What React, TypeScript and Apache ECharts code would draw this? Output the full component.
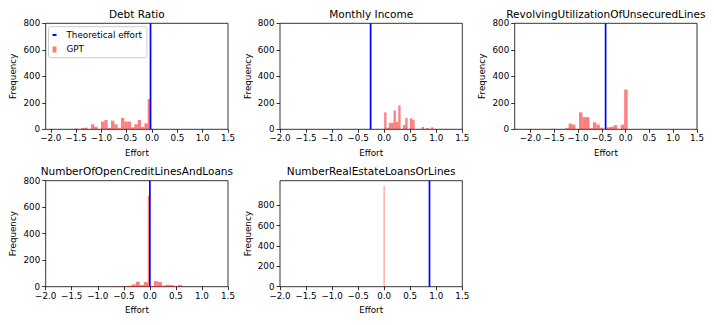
import React, { useEffect, useRef } from 'react';
import * as echarts from 'echarts';

const TITLES = [
  'Debt Ratio',
  'Monthly Income',
  'RevolvingUtilizationOfUnsecuredLines',
  'NumberOfOpenCreditLinesAndLoans',
  'NumberRealEstateLoansOrLines',
];
const X_TICKS = [-2.0, -1.5, -1.0, -0.5, 0.0, 0.5, 1.0, 1.5];
const Y_TICKS = [0, 200, 400, 600, 800];
const X_MIN = [-2.1, -2.0, -2.33, -2.0, -2.0];
const X_MAX = [1.5, 1.5, 1.5, 1.5, 1.5];
const Y_MAX = [800, 800, 800, 800, 1040];
const THEORETICAL = [-0.03, -0.26, -0.42, 0.0, 0.87];

const DEBT_EDGES = [-1.53, -1.47, -1.4, -1.34, -1.27, -1.206, -1.14, -1.074, -1.008, -0.942, -0.877, -0.811, -0.745, -0.679, -0.613, -0.547, -0.481, -0.415, -0.349, -0.283, -0.218, -0.152, -0.086, -0.026];
const DEBT_COUNTS = [6, 0, 10, 12, 0, 38, 20, 0, 58, 70, 10, 65, 38, 8, 86, 58, 58, 15, 38, 70, 18, 45, 228];

const INCOME_EDGES = [0, 0.045, 0.09, 0.135, 0.18, 0.225, 0.27, 0.315, 0.36, 0.405, 0.45, 0.495, 0.54, 0.585, 0.63, 0.675, 0.72, 0.765, 0.81, 0.855, 0.9, 0.945, 0.99, 1.035, 1.08, 1.125, 1.17, 1.215];
const INCOME_COUNTS = [128, 12, 48, 50, 142, 55, 180, 0, 32, 86, 0, 82, 72, 0, 0, 0, 18, 0, 10, 0, 15, 0, 0, 0, 0, 0, 3];

const REVOLVING_EDGES = [-1.563, -1.49, -1.417, -1.344, -1.271, -1.198, -1.125, -1.052, -0.979, -0.906, -0.833, -0.76, -0.687, -0.614, -0.541, -0.468, -0.395, -0.322, -0.249, -0.176, -0.103, -0.03, 0.043];
const REVOLVING_COUNTS = [4, 0, 0, 0, 8, 43, 35, 0, 128, 92, 92, 8, 52, 36, 12, 0, 15, 20, 32, 0, 35, 300];

const OPEN_EDGES = [-0.733, -0.656, -0.579, -0.502, -0.425, -0.348, -0.271, -0.194, -0.117, -0.04, 0.0, 0.077, 0.154, 0.231, 0.308, 0.385, 0.462, 0.539, 0.616, 0.693];
const OPEN_COUNTS = [3, 0, 0, 3, 8, 18, 38, 12, 35, 685, 5, 42, 36, 8, 14, 12, 5, 13, 3];

const REALESTATE_EDGES = [-0.015, 0.015];
const REALESTATE_COUNTS = [990];

const HISTS = [
  [DEBT_EDGES, DEBT_COUNTS],
  [INCOME_EDGES, INCOME_COUNTS],
  [REVOLVING_EDGES, REVOLVING_COUNTS],
  [OPEN_EDGES, OPEN_COUNTS],
  [REALESTATE_EDGES, REALESTATE_COUNTS],
];
const HIST_COLORS = ['rgba(255,0,0,0.5)', 'rgba(255,0,0,0.5)', 'rgba(255,0,0,0.5)', 'rgba(255,0,0,0.5)', 'rgba(255,0,0,0.3)'];

const GRIDS = [
  { left: 45.7, top: 23.3 },
  { left: 280, top: 23.3 },
  { left: 514.7, top: 23.3 },
  { left: 45.7, top: 180.7 },
  { left: 280, top: 180.7 },
];
const GW = 182.3;
const GH = 106;
const FONT = 'DejaVu Sans';
const FS = 8.75;

const fmt = (v: number) => v.toFixed(1).replace('-', '\u2212');

export default function App() {
  const ref = useRef<HTMLDivElement>(null);
  useEffect(() => {
    if (!ref.current) return;
    const chart = echarts.init(ref.current, null, { renderer: 'svg' });
    const grid = GRIDS.map((g) => ({
      left: g.left,
      top: g.top,
      width: GW,
      height: GH,
      show: true,
      borderColor: '#000',
      borderWidth: 0.8,
      backgroundColor: 'transparent',
    }));
    const xAxis = GRIDS.map((_, i) => ({
      type: 'value',
      gridIndex: i,
      min: X_MIN[i],
      max: X_MAX[i],
      name: 'Effort',
      nameLocation: 'middle',
      nameGap: 19,
      nameTextStyle: { fontFamily: FONT, fontSize: FS, color: '#000' },
      axisLine: { show: false, onZero: false },
      axisTick: { show: true, inside: false, length: 3.5, lineStyle: { color: '#000', width: 0.8 }, customValues: X_TICKS },
      axisLabel: { show: true, margin: 4.5, fontFamily: FONT, fontSize: FS, color: '#000', customValues: X_TICKS, formatter: (v: number) => fmt(v) },
      splitLine: { show: false },
    }));
    const yAxis = GRIDS.map((_, i) => ({
      type: 'value',
      gridIndex: i,
      min: 0,
      max: Y_MAX[i],
      name: 'Frequency',
      nameLocation: 'middle',
      nameRotate: 90,
      nameGap: 28,
      nameTextStyle: { fontFamily: FONT, fontSize: FS, color: '#000' },
      axisLine: { show: false, onZero: false },
      axisTick: { show: true, inside: false, length: 3.5, lineStyle: { color: '#000', width: 0.8 }, customValues: Y_TICKS },
      axisLabel: { show: true, margin: 5.5, fontFamily: FONT, fontSize: FS, color: '#000', customValues: Y_TICKS },
      splitLine: { show: false },
    }));
    const series: any[] = [];
    HISTS.forEach(([edges, counts], i) => {
      const data = (counts as number[]).map((c, k) => [(edges as number[])[k], (edges as number[])[k + 1], c]);
      const color = HIST_COLORS[i];
      series.push({
        type: 'custom',
        name: 'GPT',
        xAxisIndex: i,
        yAxisIndex: i,
        encode: { x: [0, 1], y: 2 },
        data,
        itemStyle: { color: 'rgba(255,0,0,0.5)' },
        renderItem: (params: any, api: any) => {
          const tl = api.coord([api.value(0), api.value(2)]);
          const br = api.coord([api.value(1), 0]);
          return {
            type: 'rect',
            shape: { x: tl[0], y: tl[1], width: br[0] - tl[0], height: br[1] - tl[1] },
            style: { fill: color },
          };
        },
        z: 2,
      });
      series.push({
        type: 'line',
        name: 'Theoretical effort',
        xAxisIndex: i,
        yAxisIndex: i,
        data: [[THEORETICAL[i], 0], [THEORETICAL[i], Y_MAX[i]]],
        symbol: 'none',
        lineStyle: { color: '#0000ff', width: 1.7 },
        itemStyle: { color: '#0000ff' },
        z: 3,
      });
    });
    const graphic = TITLES.map((t, i) => ({
      type: 'text',
      x: GRIDS[i].left + GW / 2,
      y: GRIDS[i].top - 9.5,
      style: { text: t, fontFamily: FONT, fontSize: 10.5, fill: '#000', align: 'center', verticalAlign: 'middle' },
    }));
    chart.setOption({
      animation: false,
      backgroundColor: '#fff',
      grid,
      xAxis,
      yAxis,
      series,
      graphic,
      legend: {
        left: 48.5,
        top: 26.7,
        orient: 'vertical',
        itemWidth: 4,
        itemHeight: 6,
        itemGap: 4,
        padding: [3, 5, 3, 4],
        borderColor: '#cccccc',
        borderWidth: 1,
        borderRadius: 2,
        backgroundColor: 'rgba(255,255,255,0.8)',
        textStyle: { fontFamily: FONT, fontSize: FS, color: '#000', padding: [0, 0, 0, 5], lineHeight: 10.5 },
        data: [
          { name: 'Theoretical effort', icon: 'path://M0,0L4,0L4,2L0,2Z', itemStyle: { color: '#0000ff' } },
          { name: 'GPT', icon: 'rect', itemStyle: { color: 'rgba(255,0,0,0.5)' } },
        ],
        selectedMode: false,
      },
    });
    return () => chart.dispose();
  }, []);
  return <div ref={ref} style={{ position: 'absolute', left: 0, top: 0, width: 714, height: 325 }} />;
}
